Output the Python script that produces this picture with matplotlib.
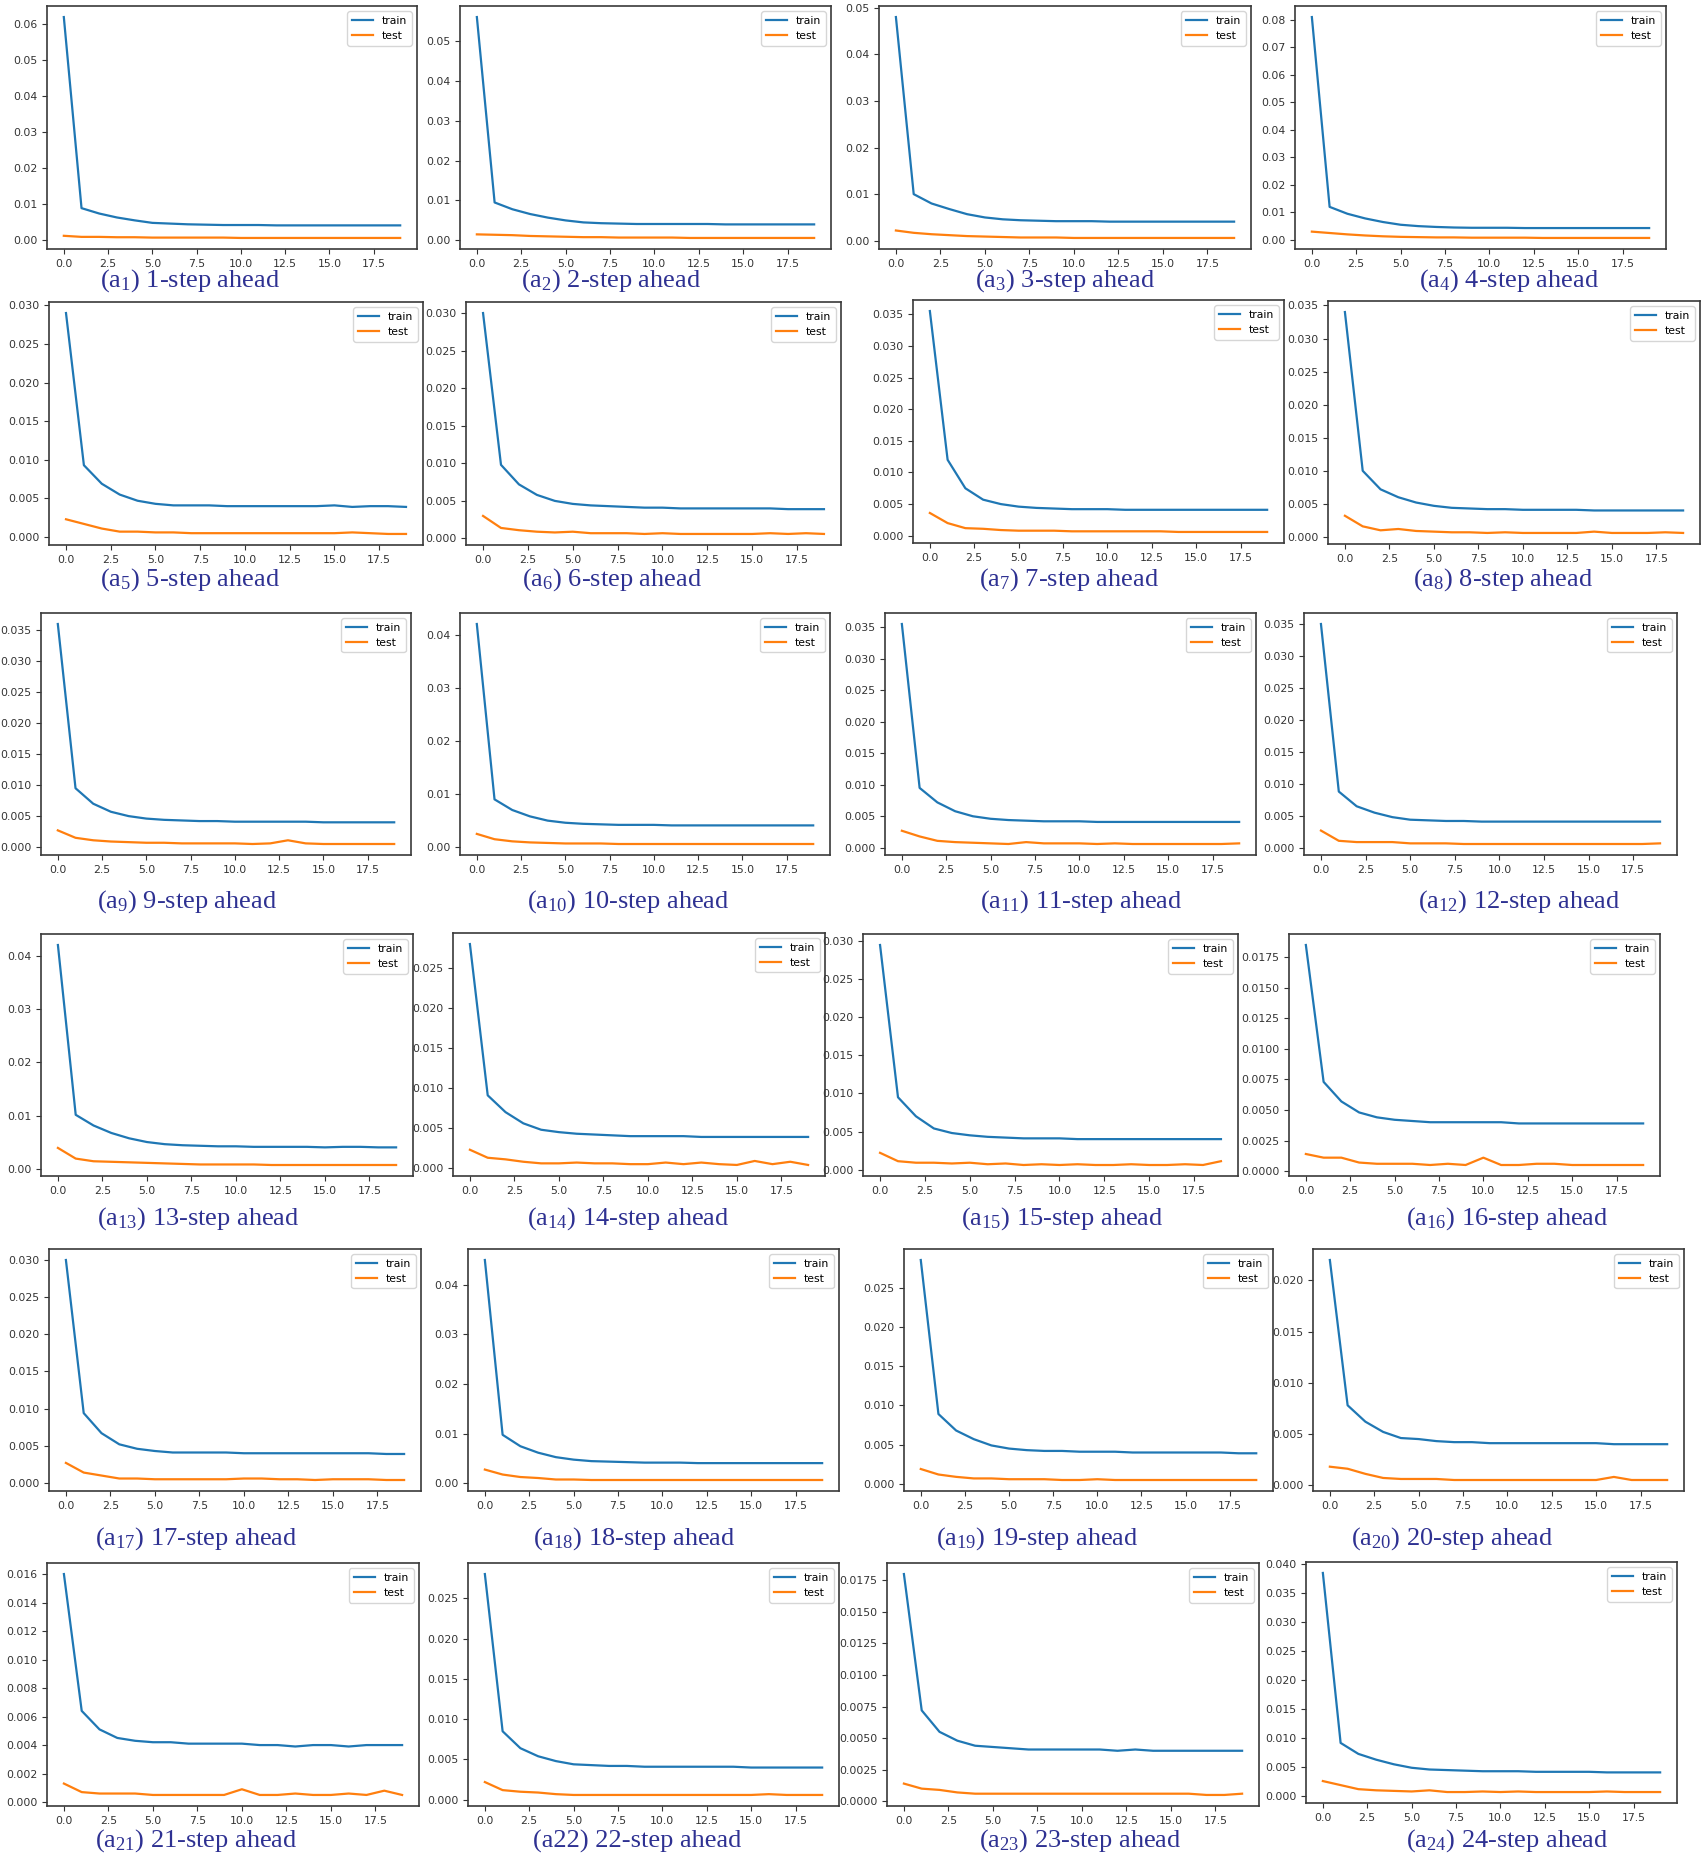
import numpy as np
import matplotlib
matplotlib.use("Agg")
import matplotlib.pyplot as plt

epochs = list(range(20))

# training / test loss per horizon
train_1 = [0.062, 0.0088, 0.0073, 0.0062, 0.0054, 0.0047, 0.0045, 0.0043, 0.0042, 0.0041, 0.0041, 0.0041, 0.0040, 0.0040, 0.0040, 0.0040, 0.0040, 0.0040, 0.0040, 0.0040]
test_1 = [0.0011, 0.0008, 0.0008, 0.0007, 0.0007, 0.0006, 0.0006, 0.0006, 0.0006, 0.0006, 0.0005, 0.0005, 0.0005, 0.0005, 0.0005, 0.0005, 0.0005, 0.0005, 0.0005, 0.0005]
train_2 = [0.056, 0.0095, 0.0078, 0.0066, 0.0057, 0.0050, 0.0045, 0.0043, 0.0042, 0.0041, 0.0041, 0.0041, 0.0041, 0.0041, 0.0040, 0.0040, 0.0040, 0.0040, 0.0040, 0.0040]
test_2 = [0.0015, 0.0014, 0.0013, 0.0011, 0.0010, 0.0009, 0.0008, 0.0008, 0.0007, 0.0007, 0.0007, 0.0007, 0.0006, 0.0006, 0.0006, 0.0006, 0.0006, 0.0006, 0.0006, 0.0006]
train_3 = [0.048, 0.0100, 0.0080, 0.0068, 0.0057, 0.0050, 0.0046, 0.0044, 0.0043, 0.0042, 0.0042, 0.0042, 0.0041, 0.0041, 0.0041, 0.0041, 0.0041, 0.0041, 0.0041, 0.0041]
test_3 = [0.0022, 0.0017, 0.0014, 0.0012, 0.0010, 0.0009, 0.0008, 0.0007, 0.0007, 0.0007, 0.0006, 0.0006, 0.0006, 0.0006, 0.0006, 0.0006, 0.0006, 0.0006, 0.0006, 0.0006]
train_4 = [0.081, 0.0120, 0.0095, 0.0078, 0.0065, 0.0055, 0.0050, 0.0047, 0.0045, 0.0044, 0.0044, 0.0044, 0.0043, 0.0043, 0.0043, 0.0043, 0.0043, 0.0043, 0.0043, 0.0043]
test_4 = [0.0030, 0.0025, 0.0020, 0.0016, 0.0013, 0.0011, 0.0010, 0.0009, 0.0009, 0.0008, 0.0008, 0.0008, 0.0008, 0.0007, 0.0007, 0.0007, 0.0007, 0.0007, 0.0007, 0.0007]
train_5 = [0.029, 0.0093, 0.0069, 0.0055, 0.0047, 0.0043, 0.0041, 0.0041, 0.0041, 0.0040, 0.0040, 0.0040, 0.0040, 0.0040, 0.0040, 0.0041, 0.0039, 0.0040, 0.0040, 0.0039]
test_5 = [0.0023, 0.0017, 0.0011, 0.0007, 0.0007, 0.0006, 0.0006, 0.0005, 0.0005, 0.0005, 0.0005, 0.0005, 0.0005, 0.0005, 0.0005, 0.0005, 0.0006, 0.0005, 0.0004, 0.0004]
train_6 = [0.030, 0.0098, 0.0072, 0.0058, 0.0050, 0.0046, 0.0044, 0.0043, 0.0042, 0.0041, 0.0041, 0.0040, 0.0040, 0.0040, 0.0040, 0.0040, 0.0040, 0.0039, 0.0039, 0.0039]
test_6 = [0.0030, 0.0014, 0.0011, 0.0009, 0.0008, 0.0009, 0.0007, 0.0007, 0.0007, 0.0006, 0.0007, 0.0006, 0.0006, 0.0006, 0.0006, 0.0006, 0.0007, 0.0006, 0.0007, 0.0006]
train_7 = [0.0355, 0.0120, 0.0075, 0.0057, 0.0050, 0.0046, 0.0044, 0.0043, 0.0042, 0.0042, 0.0042, 0.0041, 0.0041, 0.0041, 0.0041, 0.0041, 0.0041, 0.0041, 0.0041, 0.0041]
test_7 = [0.0036, 0.0020, 0.0012, 0.0011, 0.0009, 0.0008, 0.0008, 0.0008, 0.0007, 0.0007, 0.0007, 0.0007, 0.0007, 0.0007, 0.0006, 0.0006, 0.0006, 0.0006, 0.0006, 0.0006]
train_8 = [0.034, 0.0100, 0.0072, 0.0060, 0.0052, 0.0047, 0.0044, 0.0043, 0.0042, 0.0042, 0.0041, 0.0041, 0.0041, 0.0041, 0.0040, 0.0040, 0.0040, 0.0040, 0.0040, 0.0040]
test_8 = [0.0032, 0.0016, 0.0010, 0.0012, 0.0009, 0.0008, 0.0007, 0.0007, 0.0006, 0.0007, 0.0006, 0.0006, 0.0006, 0.0006, 0.0008, 0.0006, 0.0006, 0.0006, 0.0007, 0.0006]
train_9 = [0.036, 0.0095, 0.0070, 0.0057, 0.0050, 0.0046, 0.0044, 0.0043, 0.0042, 0.0042, 0.0041, 0.0041, 0.0041, 0.0041, 0.0041, 0.0040, 0.0040, 0.0040, 0.0040, 0.0040]
test_9 = [0.0027, 0.0015, 0.0011, 0.0009, 0.0008, 0.0007, 0.0007, 0.0006, 0.0006, 0.0006, 0.0006, 0.0005, 0.0006, 0.0011, 0.0006, 0.0005, 0.0005, 0.0005, 0.0005, 0.0005]
train_10 = [0.042, 0.0090, 0.0070, 0.0058, 0.0050, 0.0046, 0.0044, 0.0043, 0.0042, 0.0042, 0.0042, 0.0041, 0.0041, 0.0041, 0.0041, 0.0041, 0.0041, 0.0041, 0.0041, 0.0041]
test_10 = [0.0025, 0.0015, 0.0011, 0.0009, 0.0008, 0.0007, 0.0007, 0.0007, 0.0006, 0.0006, 0.0006, 0.0006, 0.0006, 0.0006, 0.0006, 0.0006, 0.0006, 0.0006, 0.0006, 0.0006]
train_11 = [0.0355, 0.0095, 0.0072, 0.0058, 0.0050, 0.0046, 0.0044, 0.0043, 0.0042, 0.0042, 0.0042, 0.0041, 0.0041, 0.0041, 0.0041, 0.0041, 0.0041, 0.0041, 0.0041, 0.0041]
test_11 = [0.0027, 0.0018, 0.0011, 0.0009, 0.0008, 0.0007, 0.0006, 0.0009, 0.0007, 0.0007, 0.0007, 0.0006, 0.0007, 0.0006, 0.0006, 0.0006, 0.0006, 0.0006, 0.0006, 0.0007]
train_12 = [0.035, 0.0088, 0.0065, 0.0055, 0.0048, 0.0044, 0.0043, 0.0042, 0.0042, 0.0041, 0.0041, 0.0041, 0.0041, 0.0041, 0.0041, 0.0041, 0.0041, 0.0041, 0.0041, 0.0041]
test_12 = [0.0027, 0.0011, 0.0009, 0.0009, 0.0009, 0.0007, 0.0007, 0.0007, 0.0006, 0.0006, 0.0006, 0.0006, 0.0006, 0.0006, 0.0006, 0.0006, 0.0006, 0.0006, 0.0006, 0.0007]
train_13 = [0.042, 0.0102, 0.0082, 0.0068, 0.0058, 0.0051, 0.0047, 0.0045, 0.0044, 0.0043, 0.0043, 0.0042, 0.0042, 0.0042, 0.0042, 0.0041, 0.0042, 0.0042, 0.0041, 0.0041]
test_13 = [0.0040, 0.0020, 0.0015, 0.0014, 0.0013, 0.0012, 0.0011, 0.0010, 0.0009, 0.0009, 0.0009, 0.0009, 0.0008, 0.0008, 0.0008, 0.0008, 0.0008, 0.0008, 0.0008, 0.0008]
train_14 = [0.028, 0.0091, 0.0070, 0.0056, 0.0048, 0.0045, 0.0043, 0.0042, 0.0041, 0.0040, 0.0040, 0.0040, 0.0040, 0.0039, 0.0039, 0.0039, 0.0039, 0.0039, 0.0039, 0.0039]
test_14 = [0.0023, 0.0013, 0.0011, 0.0008, 0.0006, 0.0006, 0.0007, 0.0006, 0.0006, 0.0005, 0.0005, 0.0007, 0.0005, 0.0007, 0.0005, 0.0004, 0.0009, 0.0005, 0.0008, 0.0004]
train_15 = [0.0295, 0.0095, 0.0070, 0.0054, 0.0048, 0.0045, 0.0043, 0.0042, 0.0041, 0.0041, 0.0041, 0.0040, 0.0040, 0.0040, 0.0040, 0.0040, 0.0040, 0.0040, 0.0040, 0.0040]
test_15 = [0.0022, 0.0011, 0.0009, 0.0009, 0.0008, 0.0009, 0.0007, 0.0008, 0.0006, 0.0007, 0.0006, 0.0007, 0.0006, 0.0006, 0.0007, 0.0006, 0.0006, 0.0007, 0.0006, 0.0011]
train_16 = [0.0185, 0.0073, 0.0057, 0.0048, 0.0044, 0.0042, 0.0041, 0.0040, 0.0040, 0.0040, 0.0040, 0.0040, 0.0039, 0.0039, 0.0039, 0.0039, 0.0039, 0.0039, 0.0039, 0.0039]
test_16 = [0.0014, 0.0011, 0.0011, 0.0007, 0.0006, 0.0006, 0.0006, 0.0005, 0.0006, 0.0005, 0.0011, 0.0005, 0.0005, 0.0006, 0.0006, 0.0005, 0.0005, 0.0005, 0.0005, 0.0005]
train_17 = [0.030, 0.0094, 0.0067, 0.0052, 0.0046, 0.0043, 0.0041, 0.0041, 0.0041, 0.0041, 0.0040, 0.0040, 0.0040, 0.0040, 0.0040, 0.0040, 0.0040, 0.0040, 0.0039, 0.0039]
test_17 = [0.0027, 0.0014, 0.0010, 0.0006, 0.0006, 0.0005, 0.0005, 0.0005, 0.0005, 0.0005, 0.0006, 0.0006, 0.0005, 0.0005, 0.0004, 0.0005, 0.0005, 0.0005, 0.0004, 0.0004]
train_18 = [0.045, 0.0098, 0.0075, 0.0062, 0.0053, 0.0048, 0.0045, 0.0044, 0.0043, 0.0042, 0.0042, 0.0042, 0.0041, 0.0041, 0.0041, 0.0041, 0.0041, 0.0041, 0.0041, 0.0041]
test_18 = [0.0028, 0.0018, 0.0013, 0.0011, 0.0008, 0.0008, 0.0007, 0.0007, 0.0007, 0.0007, 0.0007, 0.0007, 0.0007, 0.0007, 0.0007, 0.0007, 0.0007, 0.0007, 0.0007, 0.0007]
train_19 = [0.0285, 0.0089, 0.0068, 0.0057, 0.0049, 0.0045, 0.0043, 0.0042, 0.0042, 0.0041, 0.0041, 0.0041, 0.0040, 0.0040, 0.0040, 0.0040, 0.0040, 0.0040, 0.0039, 0.0039]
test_19 = [0.0019, 0.0012, 0.0009, 0.0007, 0.0007, 0.0006, 0.0006, 0.0006, 0.0005, 0.0005, 0.0006, 0.0005, 0.0005, 0.0005, 0.0005, 0.0005, 0.0005, 0.0005, 0.0005, 0.0005]
train_20 = [0.022, 0.0078, 0.0062, 0.0052, 0.0046, 0.0045, 0.0043, 0.0042, 0.0042, 0.0041, 0.0041, 0.0041, 0.0041, 0.0041, 0.0041, 0.0041, 0.0040, 0.0040, 0.0040, 0.0040]
test_20 = [0.0018, 0.0016, 0.0011, 0.0007, 0.0006, 0.0006, 0.0006, 0.0005, 0.0005, 0.0005, 0.0005, 0.0005, 0.0005, 0.0005, 0.0005, 0.0005, 0.0008, 0.0005, 0.0005, 0.0005]
train_21 = [0.016, 0.0064, 0.0051, 0.0045, 0.0043, 0.0042, 0.0042, 0.0041, 0.0041, 0.0041, 0.0041, 0.0040, 0.0040, 0.0039, 0.0040, 0.0040, 0.0039, 0.0040, 0.0040, 0.0040]
test_21 = [0.0013, 0.0007, 0.0006, 0.0006, 0.0006, 0.0005, 0.0005, 0.0005, 0.0005, 0.0005, 0.0009, 0.0005, 0.0005, 0.0006, 0.0005, 0.0005, 0.0006, 0.0005, 0.0008, 0.0005]
train_22 = [0.028, 0.0085, 0.0064, 0.0054, 0.0048, 0.0044, 0.0043, 0.0042, 0.0042, 0.0041, 0.0041, 0.0041, 0.0041, 0.0041, 0.0041, 0.0040, 0.0040, 0.0040, 0.0040, 0.0040]
test_22 = [0.0022, 0.0012, 0.0010, 0.0009, 0.0007, 0.0006, 0.0006, 0.0006, 0.0006, 0.0006, 0.0006, 0.0006, 0.0006, 0.0006, 0.0006, 0.0006, 0.0007, 0.0006, 0.0006, 0.0006]
train_23 = [0.018, 0.0072, 0.0055, 0.0048, 0.0044, 0.0043, 0.0042, 0.0041, 0.0041, 0.0041, 0.0041, 0.0041, 0.0040, 0.0041, 0.0040, 0.0040, 0.0040, 0.0040, 0.0040, 0.0040]
test_23 = [0.0014, 0.0010, 0.0009, 0.0007, 0.0006, 0.0006, 0.0006, 0.0006, 0.0006, 0.0006, 0.0006, 0.0006, 0.0006, 0.0006, 0.0006, 0.0006, 0.0006, 0.0005, 0.0005, 0.0006]
train_24 = [0.0385, 0.0091, 0.0072, 0.0062, 0.0054, 0.0048, 0.0045, 0.0044, 0.0043, 0.0042, 0.0042, 0.0042, 0.0041, 0.0041, 0.0041, 0.0041, 0.0040, 0.0040, 0.0040, 0.0040]
test_24 = [0.0025, 0.0018, 0.0011, 0.0009, 0.0008, 0.0007, 0.0009, 0.0006, 0.0006, 0.0007, 0.0006, 0.0007, 0.0006, 0.0006, 0.0006, 0.0006, 0.0007, 0.0006, 0.0006, 0.0006]

train_all = [train_1, train_2, train_3, train_4, train_5, train_6, train_7, train_8,
             train_9, train_10, train_11, train_12, train_13, train_14, train_15, train_16,
             train_17, train_18, train_19, train_20, train_21, train_22, train_23, train_24]
test_all = [test_1, test_2, test_3, test_4, test_5, test_6, test_7, test_8,
            test_9, test_10, test_11, test_12, test_13, test_14, test_15, test_16,
            test_17, test_18, test_19, test_20, test_21, test_22, test_23, test_24]

# caption labels; (a22) is printed without a subscript in the original
captions = []
for k in range(1, 25):
    if k == 22:
        captions.append("(a22) 22-step ahead")
    else:
        captions.append(r"(a$_{%d}$) %d-step ahead" % (k, k))

# axes boxes in pixels (left, top, right, bottom) and caption centres
W, H = 1705, 1859
boxes = [
    (47, 6, 417, 249), (460, 6, 831, 249), (879, 6, 1251, 249), (1295, 6, 1666, 249),
    (49, 302, 423, 545), (466, 302, 841, 545), (913, 300, 1284, 543), (1328, 301, 1700, 544),
    (41, 613, 411, 855), (460, 613, 830, 855), (885, 613, 1256, 855), (1304, 613, 1677, 855),
    (41, 934, 413, 1176), (453, 933, 825, 1176), (863, 934, 1238, 1176), (1289, 934, 1660, 1176),
    (49, 1249, 421, 1491), (468, 1249, 839, 1491), (904, 1249, 1273, 1491), (1313, 1249, 1684, 1491),
    (47, 1563, 419, 1806), (468, 1563, 839, 1806), (887, 1563, 1259, 1806), (1306, 1562, 1677, 1803),
]
cap_x = [190, 611, 1065, 1509, 190, 612, 1069, 1503, 187, 628, 1081, 1519,
         198, 628, 1062, 1507, 196, 634, 1037, 1452, 196, 637, 1080, 1507]
cap_y = [281, 580, 902, 1219, 1539, 1841]

plt.rcParams['mathtext.fontset'] = 'custom'
plt.rcParams['mathtext.rm'] = 'Liberation Serif'
plt.rcParams['mathtext.it'] = 'Liberation Serif:italic'
plt.rcParams['mathtext.bf'] = 'Liberation Serif:bold'

fig = plt.figure(figsize=(W / 100, H / 100), dpi=100)

for i in range(24):
    l, t, r, b = boxes[i]
    ax = fig.add_axes([l / W, 1 - b / H, (r - l) / W, (b - t) / H])
    ax.plot(epochs, train_all[i], color='#1f77b4', lw=1.6, label='train')
    ax.plot(epochs, test_all[i], color='#ff7f0e', lw=1.6, label='test')
    ax.tick_params(labelsize=7.8, colors='#333333', length=3.5)
    for s in ax.spines.values():
        s.set_color('#3a3a3a')
        s.set_linewidth(1.2)
    ax.legend(loc='upper right', fontsize=7.8, handlelength=2.0)
    fig.text(cap_x[i] / W, 1 - cap_y[i // 4] / H, captions[i], ha='center', va='center',
             fontsize=19, family='Liberation Serif', color='#2e3192')

fig.savefig('out.png', dpi=100)
